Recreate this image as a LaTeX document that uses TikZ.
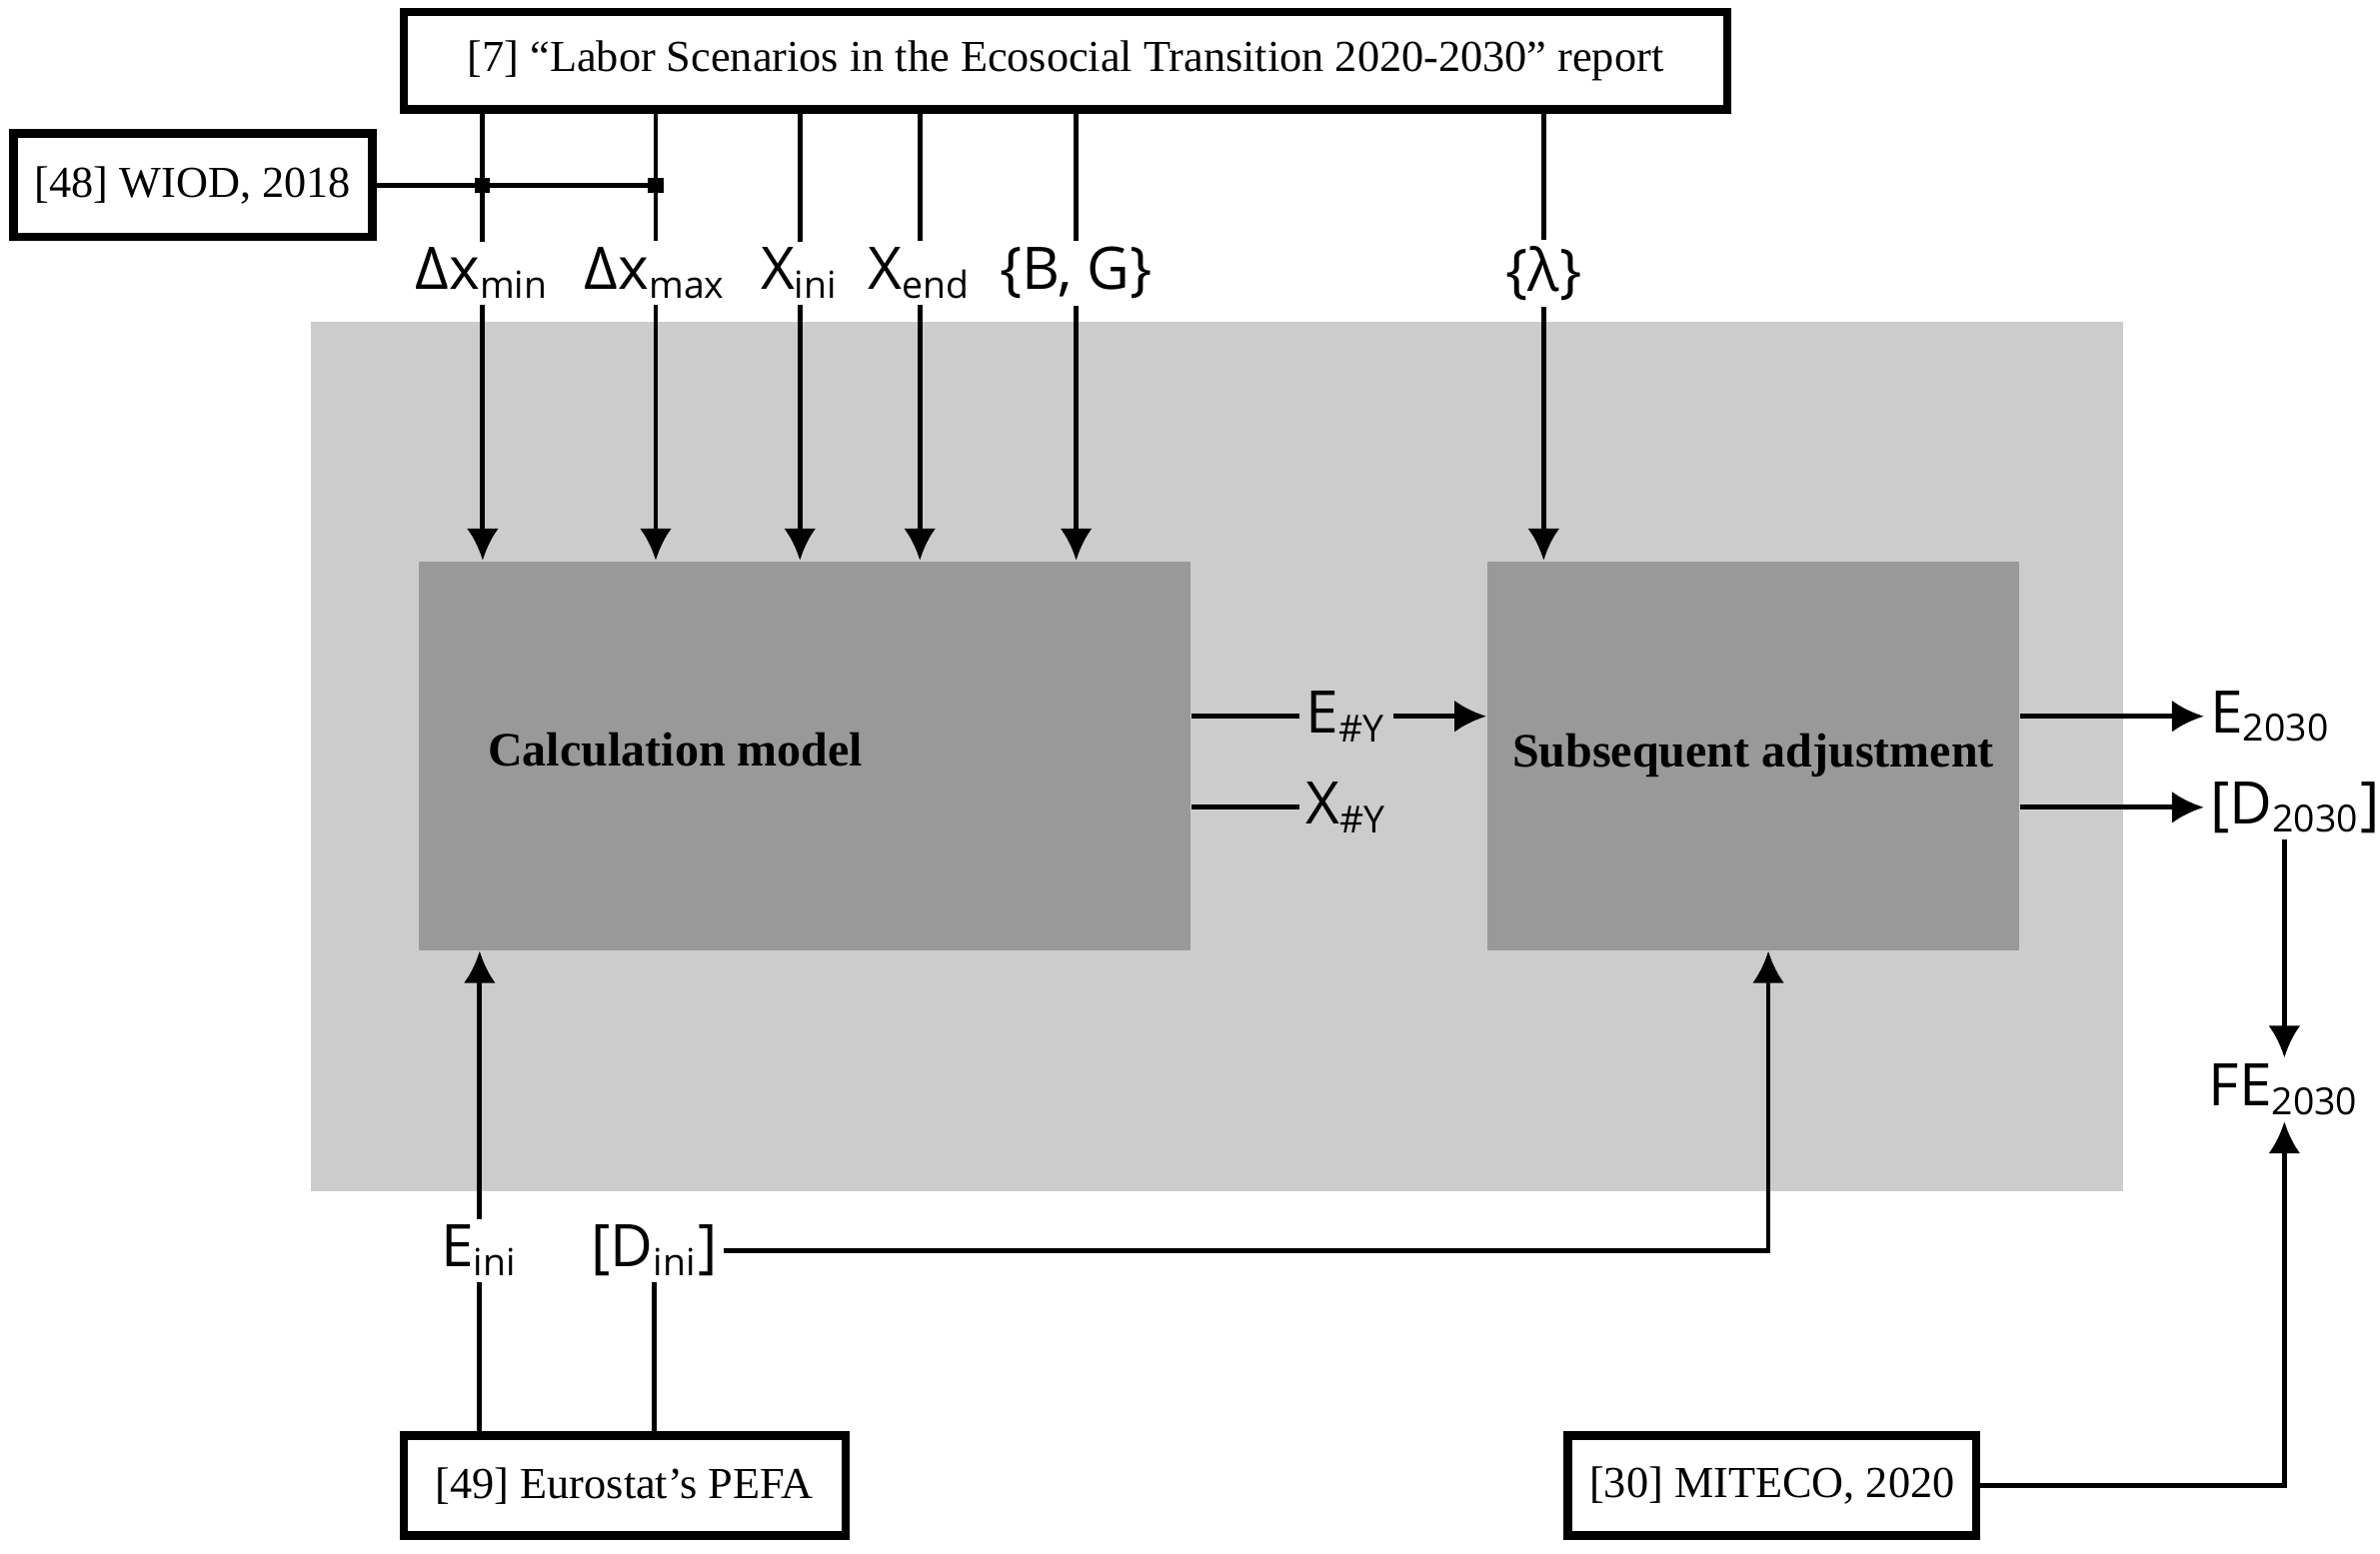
\documentclass[tikz,border=0pt]{standalone}
\usepackage{fontspec}
\setmainfont{Liberation Serif}
\newfontfamily\labfont{Open Sans}
\usetikzlibrary{arrows.meta,positioning}
\tikzset{
  src/.style={draw, line width=1.6pt, inner xsep=4pt, minimum height=0.64cm, font=\fontsize{8.3}{10}\selectfont},
  blk/.style={fill=black!40, inner sep=0pt},
  var/.style={inner sep=1pt, font=\labfont\fontsize{11}{13}\selectfont},
  line/.style={line width=0.9pt},
  arr/.style={line width=0.9pt, -{Latex[length=6pt,width=6pt]}},
}
\newcommand{\lsub}[1]{\textsubscript{\fontsize{7}{8}\selectfont #1}}
\begin{document}
\begin{tikzpicture}
\useasboundingbox (0,0) rectangle (15.68,10.24);
	%% Hintergrund
	\fill[black!20] (2.05,2.39) rectangle (13.99,8.12);
	\node[blk, minimum width=5.08cm, minimum height=2.56cm] (calc) at (5.30,5.26) {};
	\node[font=\bfseries\fontsize{9}{11}\selectfont] at (4.45,5.30) {Calculation model};
	\node[blk, minimum width=3.50cm, minimum height=2.56cm, font=\bfseries\fontsize{9}{11}\selectfont] (adj) at (11.55,5.26) {Subsequent adjustment};

	%% Quellen
	\node[src, minimum width=8.72cm] (rep) at (7.02,9.84) {[7] “Labor Scenarios in the Ecosocial Transition 2020-2030” report};
	\node[src, minimum width=2.34cm, minimum height=0.68cm] (wiod) at (1.27,9.02) {[48] WIOD, 2018};
	\node[src, minimum width=2.91cm, minimum height=0.66cm] (pefa) at (4.115,0.45) {[49] Eurostat’s PEFA};
	\node[src, minimum width=2.69cm, minimum height=0.66cm] (mit) at (11.675,0.45) {[30] MITECO, 2020};

	%% Variablen
	\node[var] (dmin) at (3.18,8.44) {Δx\lsub{min}};
	\node[var] (dmax) at (4.32,8.44) {Δx\lsub{max}};
	\node[var] (xini) at (5.27,8.44) {X\lsub{ini}};
	\node[var] (xend) at (6.06,8.44) {X\lsub{end}};
	\node[var] (bg) at (7.09,8.44) {\{B, G\}};
	\node[var] (lam) at (10.17,8.44) {\{λ\}};
	\node[var] (eini) at (3.16,2.00) {E\lsub{ini}};
	\node[var] (dini) at (4.31,2.00) {[D\lsub{ini}]};
	\node[var] (ey) at (8.87,5.52) {E\lsub{\#Y}};
	\node[var] (xy) at (8.87,4.92) {X\lsub{\#Y}};
	\node[var, anchor=west] (e30) at (14.52,5.52) {E\lsub{2030}};
	\node[var, anchor=west] (d30) at (14.52,4.92) {[D\lsub{2030}]};
	\node[var] (fe) at (15.05,3.06) {FE\lsub{2030}};

	%% Verbindungen oben
	\foreach \v in {dmin,dmax,xini,xend,bg}{
		\draw[line] (rep.south -| \v) -- (\v.north);
		\draw[arr] (\v.south) -- (calc.north -| \v);
	}
	\draw[line] (rep.south -| lam) -- (lam.north);
	\draw[arr] (lam.south) -- (adj.north -| lam);
	\draw[line] (wiod.east) -- (wiod.east -| dmax);
	\fill (wiod.east -| dmin) +(-0.05,-0.05) rectangle +(0.05,0.05);
	\fill (wiod.east -| dmax) +(-0.05,-0.05) rectangle +(0.05,0.05);

	%% Mitte
	\draw[line] (calc.east |- ey) -- (ey.west);
	\draw[arr] (ey.east) -- (adj.west |- ey);
	\draw[line] (calc.east |- xy) -- (xy.west);
	\draw[arr] (adj.east |- e30) -- (e30.west);
	\draw[arr] (adj.east |- d30) -- (d30.west);
	\draw[arr] (d30.south -| fe) -- (fe.north);

	%% Unten
	\draw[arr] (eini.north) -- (calc.south -| eini);
	\draw[line] (pefa.north -| eini) -- (eini.south);
	\draw[line] (pefa.north -| dini) -- (dini.south);
	\draw[arr] (dini.east) -| (adj.south -| 11.65,0);
	\draw[arr] (mit.east) -| (fe.south);
\end{tikzpicture}
\end{document}
